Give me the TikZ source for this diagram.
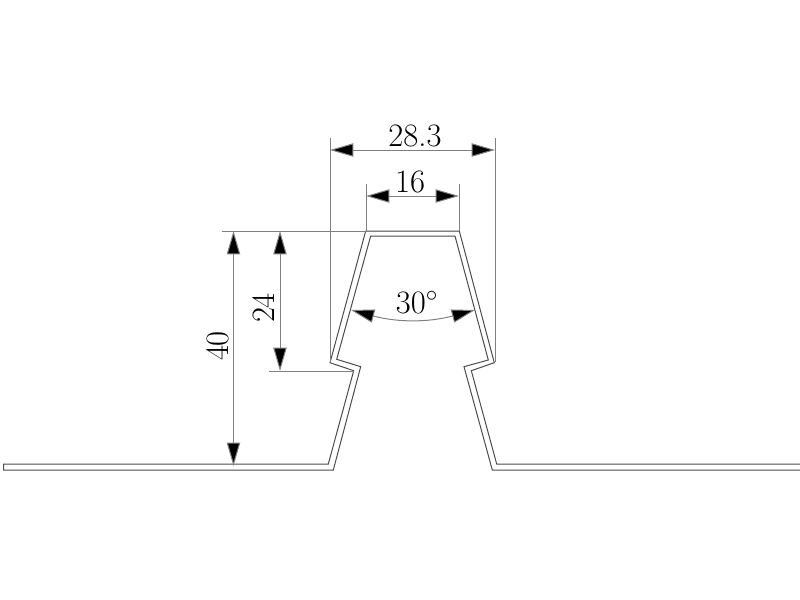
\documentclass[tikz,border=0pt]{standalone}
\usetikzlibrary{arrows.meta}
\tikzset{every picture/.style={line width=0.75pt}}
\tikzset{
  profile/.style={draw=black!70,line width=0.75pt},
  dimline/.style={draw=black!50,line width=0.75pt},
  dimarrow/.style={dimline,{Triangle[length=17.5pt,width=10pt,fill=black]}-{Triangle[length=17.5pt,width=10pt,fill=black]}},
  dimtext/.style={inner sep=0pt,font=\fontsize{24.5}{24.5}\selectfont}
}

\begin{document}
\begin{tikzpicture}[x=0.75pt,y=0.75pt,yscale=-1,xscale=1]
\useasboundingbox (0,0) rectangle (800,600);

%Shape: sheet profile
\draw [profile] (800,464) -- (496.7,464) -- (471.3,370.7) -- (494.3,362.7) -- (459.3,231) -- (365.7,231) -- (330,362.7) -- (353.7,370.7) -- (328.3,464) -- (3.5,464) -- (3.5,470) -- (333.3,470) -- (360.7,366.7) -- (336.7,359.3) -- (370.7,236) -- (455,236) -- (488.3,360) -- (464,366.7) -- (492.3,470) -- (800,470) ;

%Coordinates of the dimensions
\coordinate (wideL) at (330,150);
\coordinate (wideR) at (495,150);
\coordinate (wideLtop) at (330,138);
\coordinate (wideRtop) at (495,138);
\coordinate (wideLfoot) at (330,362);
\coordinate (wideRfoot) at (495,362);
\coordinate (topL) at (366,196);
\coordinate (topR) at (459,196);
\coordinate (topLtop) at (366,184);
\coordinate (topRtop) at (459,184);
\coordinate (topLfoot) at (366,231);
\coordinate (topRfoot) at (459,231);
\coordinate (headA) at (222,231);
\coordinate (headB) at (269,371);
\coordinate (headBend) at (354,371);
\coordinate (outerUp) at (233.5,231);
\coordinate (outerDown) at (233.5,466);
\coordinate (innerUp) at (280,231);
\coordinate (innerDown) at (280,371);
\coordinate (angleL) at (351,310);
\coordinate (angleR) at (475,310);

%Extension lines
\draw [dimline] (wideLtop) -- (wideLfoot);
\draw [dimline] (wideRtop) -- (wideRfoot);
\draw [dimline] (topLtop) -- (topLfoot);
\draw [dimline] (topRtop) -- (topRfoot);
\draw [dimline] (headA) -- (topRfoot);
\draw [dimline] (headB) -- (headBend);

%Dimension lines
\draw [dimarrow] (wideL) -- (wideR);
\draw [dimarrow] (topL) -- (topR);
\draw [dimarrow] (outerUp) -- (outerDown);
\draw [dimarrow] (innerUp) -- (innerDown);
\draw [dimarrow] (angleL) to [bend left=15] (angleR);

% Text Node
\node (wideText) [dimtext] at (415,136) {28.3};
% Text Node
\node (topText) [dimtext] at (410,182) {16};
% Text Node
\node (angleText) [dimtext] at (417,303) {30$^\circ$};
% Text Node
\node (innerText) [dimtext,rotate=90] at (264,308) {24};
% Text Node
\node (outerText) [dimtext,rotate=90] at (218,346) {40};

\end{tikzpicture}
\end{document}
